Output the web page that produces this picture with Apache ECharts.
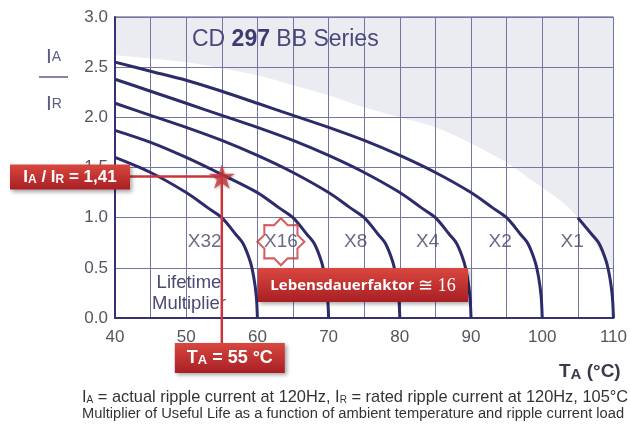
<!DOCTYPE html>
<html><head><meta charset="utf-8">
<script src="https://cdn.jsdelivr.net/npm/echarts@6/dist/echarts.min.js"></script>
<style>html,body{margin:0;padding:0;background:#fff}#c{width:630px;height:426px}</style>
</head><body><div id="c"></div>
<script>
// ---- data ----
const xMin = 40, xMax = 110, yMin = 0, yMax = 3;
const xTickLabels = [40, 50, 60, 70, 80, 90, 100, 110];
const yTickLabels = ['0.0', '0.5', '1.0', '1.5', '2.0', '2.5', '3.0'];

const curveNames = ['X32', 'X16', 'X8', 'X4', 'X2', 'X1'];
const x32X = [40, 45, 50, 53, 55, 57, 58, 59, 59.5, 59.85, 60];
const x32Y = [1.60, 1.45, 1.25, 1.10, 1.00, 0.83, 0.74, 0.56, 0.40, 0.21, 0];
const x16X = [40, 45, 50, 55, 60, 63, 65, 67, 68, 69, 69.5, 69.85, 70];
const x16Y = [1.87, 1.75, 1.60, 1.43, 1.25, 1.10, 1.00, 0.83, 0.74, 0.56, 0.40, 0.21, 0];
const x8X = [40, 45, 50, 55, 60, 65, 70, 73, 75, 77, 78, 79, 79.5, 79.85, 80];
const x8Y = [2.14, 2.02, 1.90, 1.77, 1.62, 1.45, 1.25, 1.10, 1.00, 0.83, 0.74, 0.56, 0.40, 0.21, 0];
const x4X = [40, 45, 50, 55, 60, 65, 70, 75, 80, 83, 85, 87, 88, 89, 89.5, 89.85, 90];
const x4Y = [2.38, 2.26, 2.14, 2.02, 1.90, 1.77, 1.62, 1.45, 1.25, 1.10, 1.00, 0.83, 0.74, 0.56, 0.40, 0.21, 0];
const x2X = [40, 45, 50, 55, 60, 65, 70, 75, 80, 85, 90, 93, 95, 97, 98, 99, 99.5, 99.85, 100];
const x2Y = [2.55, 2.46, 2.37, 2.26, 2.14, 2.02, 1.90, 1.77, 1.62, 1.45, 1.25, 1.10, 1.00, 0.83, 0.74, 0.56, 0.40, 0.21, 0];
const x1X = [105, 107, 108, 109, 109.5, 109.85, 110];
const x1Y = [1.00, 0.83, 0.74, 0.56, 0.40, 0.21, 0];

// shaded (grey) limit region boundary
const limitX = [40, 50, 60, 65, 70, 75, 80, 85, 90, 95, 98, 100, 102, 104, 105, 107, 109, 110];
const limitY = [2.62, 2.55, 2.42, 2.32, 2.22, 2.10, 2.00, 1.90, 1.74, 1.55, 1.40, 1.30, 1.20, 1.08, 1.00, 0.80, 0.56, 0.50];

// multiplier label positions
const labelX = [52.6, 63.3, 73.8, 83.9, 94.1, 104.2];
const labelY = [0.76, 0.76, 0.76, 0.76, 0.76, 0.76];

// example reading
const exampleTA = 55;
const exampleRatio = 1.41;
const exampleFactor = 16;

// ---- chart ----
const pair = (xs, ys) => xs.map((x, i) => [x, ys[i]]);
const curves = [[x32X, x32Y], [x16X, x16Y], [x8X, x8Y], [x4X, x4Y], [x2X, x2Y], [x1X, x1Y]];
const FONT = '"Liberation Sans", Arial, sans-serif';
const NAVY = '#2c2b6c';
const RED = '#c8353a';

const chart = echarts.init(document.getElementById('c'), null, {renderer: 'canvas'});

const series = [{
  type: 'line', name: 'limit', data: pair(limitX, limitY), z: 1,
  symbol: 'none', smooth: 0.3, lineStyle: {width: 0},
  areaStyle: {origin: 'end', color: '#ebebf2', opacity: 1}, silent: true
}];
curves.forEach((c, i) => series.push({
  type: 'line', name: curveNames[i], data: pair(c[0], c[1]), z: 3,
  symbol: 'none', smooth: 0.3,
  lineStyle: {color: NAVY, width: 3}
}));
series.push({
  type: 'scatter', name: 'labels', z: 4, symbolSize: 0,
  data: labelX.map((x, i) => ({value: [x, labelY[i]], name: curveNames[i]})),
  label: {show: true, position: 'inside', formatter: p => p.name,
    fontFamily: FONT, fontSize: 19, color: '#46466a'}
});
series.push({
  type: 'scatter', name: 'factorStar', z: 4,
  symbol: 'path://M100,50 L85.1,64.5 L85.36,85.36 L64.5,85.1 L50,100 L35.5,85.1 L14.64,85.36 L14.9,64.5 L0,50 L14.9,35.5 L14.64,14.64 L35.5,14.9 L50,0 L64.5,14.9 L85.36,14.64 L85.1,35.5 Z',
  symbolSize: 47, symbolKeepAspect: true,
  itemStyle: {color: 'rgba(255,255,255,0)', borderColor: RED, borderWidth: 2},
  data: [[labelX[1], labelY[1]]]
});
series.push({
  type: 'scatter', name: 'exampleStar', z: 6,
  symbol: 'path://M50,0 L61,35 L98,35 L68,57 L79,91 L50,70 L21,91 L32,57 L2,35 L39,35 Z',
  symbolSize: 26, symbolKeepAspect: true,
  itemStyle: {color: RED, shadowBlur: 3, shadowColor: 'rgba(0,0,0,0.35)', shadowOffsetX: 1, shadowOffsetY: 1},
  data: [[exampleTA, exampleRatio]]
});

chart.setOption({
  animation: false,
  backgroundColor: '#ffffff',
  grid: {left: 115, right: 13, top: 17, bottom: 108, show: true,
    borderColor: '#4a4a80', borderWidth: 1, backgroundColor: 'transparent'},
  xAxis: {
    type: 'value', min: xMin, max: xMax, interval: 5, z: 2,
    axisLine: {show: true, lineStyle: {color: '#34336f', width: 2}},
    axisTick: {show: false},
    splitLine: {show: true, lineStyle: {color: '#7575a3', width: 1}},
    axisLabel: {margin: 11, fontFamily: FONT, fontSize: 17, color: '#55555f',
      formatter: v => xTickLabels.includes(v) ? String(v) : ''}
  },
  yAxis: {
    type: 'value', min: yMin, max: yMax, interval: 0.5, z: 2,
    axisLine: {show: true, lineStyle: {color: '#34336f', width: 2}},
    axisTick: {show: false},
    splitLine: {show: true, lineStyle: {color: '#7575a3', width: 1}},
    axisLabel: {margin: 7, fontFamily: FONT, fontSize: 17, color: '#55555f',
      formatter: v => yTickLabels[Math.round(v * 2)]}
  },
  series: series
});

const [sx, sy] = chart.convertToPixel({gridIndex: 0}, [exampleTA, exampleRatio]);
const redGrad = {type: 'linear', x: 0, y: 0, x2: 0, y2: 1,
  colorStops: [{offset: 0, color: '#d9473f'}, {offset: 1, color: '#a81f24'}]};
const boxShadow = {shadowBlur: 4, shadowColor: 'rgba(0,0,0,0.35)', shadowOffsetX: 2, shadowOffsetY: 2};

chart.setOption({
  graphic: [
    // title
    {type: 'text', left: 192, top: 28, z: 10, style: {
      text: 'CD {b|297} BB Series', fontFamily: FONT, fontSize: 23, fill: '#48487c',
      rich: {b: {fontFamily: FONT, fontSize: 23, fontWeight: 'bold', fill: '#3c3c72'}}}},
    // y axis name
    {type: 'text', x: 46, y: 57, z: 10, style: {text: 'I{s|A}', fontFamily: FONT, fontSize: 21,
      fill: '#5c5c84', verticalAlign: 'middle', rich: {s: {fontSize: 14, fill: '#5c5c84', fontFamily: FONT}}}},
    {type: 'line', z: 10, shape: {x1: 39, y1: 77, x2: 68, y2: 77}, style: {stroke: '#5c5c84', lineWidth: 1.5}},
    {type: 'text', x: 46, y: 104, z: 10, style: {text: 'I{s|R}', fontFamily: FONT, fontSize: 21,
      fill: '#5c5c84', verticalAlign: 'middle', rich: {s: {fontSize: 14, fill: '#5c5c84', fontFamily: FONT}}}},
    // x axis name
    {type: 'text', x: 559, y: 372, z: 10, style: {text: 'T{s|A} (°C)', fontFamily: FONT, fontSize: 19,
      fontWeight: 'bold', fill: '#3a3a4c', verticalAlign: 'middle',
      rich: {s: {fontSize: 15, fontWeight: 'bold', fill: '#3a3a4c', fontFamily: FONT, padding: [6, 0, 0, 0]}}}},
    // Lifetime multiplier
    {type: 'text', x: 189, y: 283, z: 10, style: {text: 'Lifetime', fontFamily: FONT, fontSize: 18.5,
      fill: '#4a4a72', align: 'center', verticalAlign: 'middle'}},
    {type: 'text', x: 189, y: 304, z: 10, style: {text: 'Multiplier', fontFamily: FONT, fontSize: 18.5,
      fill: '#4a4a72', align: 'center', verticalAlign: 'middle'}},
    // red guide lines
    {type: 'line', z: 11, shape: {x1: 128, y1: sy, x2: sx, y2: sy}, style: {stroke: RED, lineWidth: 2.5}},
    {type: 'line', z: 11, shape: {x1: sx, y1: sy, x2: sx, y2: 344}, style: {stroke: RED, lineWidth: 2.5}},
    // box Ia/Ir
    {type: 'rect', z: 12, shape: {x: 10, y: sy - 12, width: 120, height: 25},
      style: Object.assign({fill: redGrad}, boxShadow)},
    {type: 'text', z: 13, x: 70, y: sy + 1, style: {text: 'I{s|A} / I{s|R} = 1,41', fontFamily: FONT,
      fontSize: 17, fontWeight: 'bold', fill: '#ffffff', align: 'center', verticalAlign: 'middle',
      rich: {s: {fontSize: 12, fontWeight: 'bold', fill: '#ffffff', fontFamily: FONT, padding: [4, 0, 0, 0]}}}},
    // box Ta
    {type: 'rect', z: 12, shape: {x: sx - 47, y: 343, width: 110, height: 30},
      style: Object.assign({fill: redGrad}, boxShadow)},
    {type: 'text', z: 13, x: sx + 8, y: 358, style: {text: 'T{s|A} = ' + exampleTA + ' °C', fontFamily: FONT,
      fontSize: 18, fontWeight: 'bold', fill: '#ffffff', align: 'center', verticalAlign: 'middle',
      rich: {s: {fontSize: 13, fontWeight: 'bold', fill: '#ffffff', fontFamily: FONT, padding: [4, 0, 0, 0]}}}},
    // box Lebensdauerfaktor
    {type: 'rect', z: 12, shape: {x: 258, y: 268, width: 210, height: 34},
      style: Object.assign({fill: redGrad}, boxShadow)},
    {type: 'text', z: 13, x: 363, y: 286, style: {text: 'Lebensdauerfaktor {b|≅ ' + exampleFactor + '}',
      fontFamily: '"Open Sans", "Liberation Sans", sans-serif', fontSize: 15, fontWeight: 'bold',
      fill: '#ffffff', align: 'center', verticalAlign: 'middle',
      rich: {b: {fontFamily: '"Liberation Serif", "DejaVu Serif", serif', fontSize: 18, fill: '#ffffff'}}}},
    // footer
    {type: 'text', x: 82, y: 397, z: 10, style: {
      text: 'I{s|A} = actual ripple current at 120Hz, I{s|R} = rated ripple current at 120Hz, 105°C',
      fontFamily: FONT, fontSize: 16.4, fill: '#333333', verticalAlign: 'middle',
      rich: {s: {fontSize: 10, fill: '#333333', fontFamily: FONT, padding: [7, 0, 0, 0]}}}},
    {type: 'text', x: 82, y: 414, z: 10, style: {
      text: 'Multiplier of Useful Life as a function of ambient temperature and ripple current load',
      fontFamily: FONT, fontSize: 14.7, fill: '#333333', verticalAlign: 'middle'}}
  ]
});
</script>
</body></html>
